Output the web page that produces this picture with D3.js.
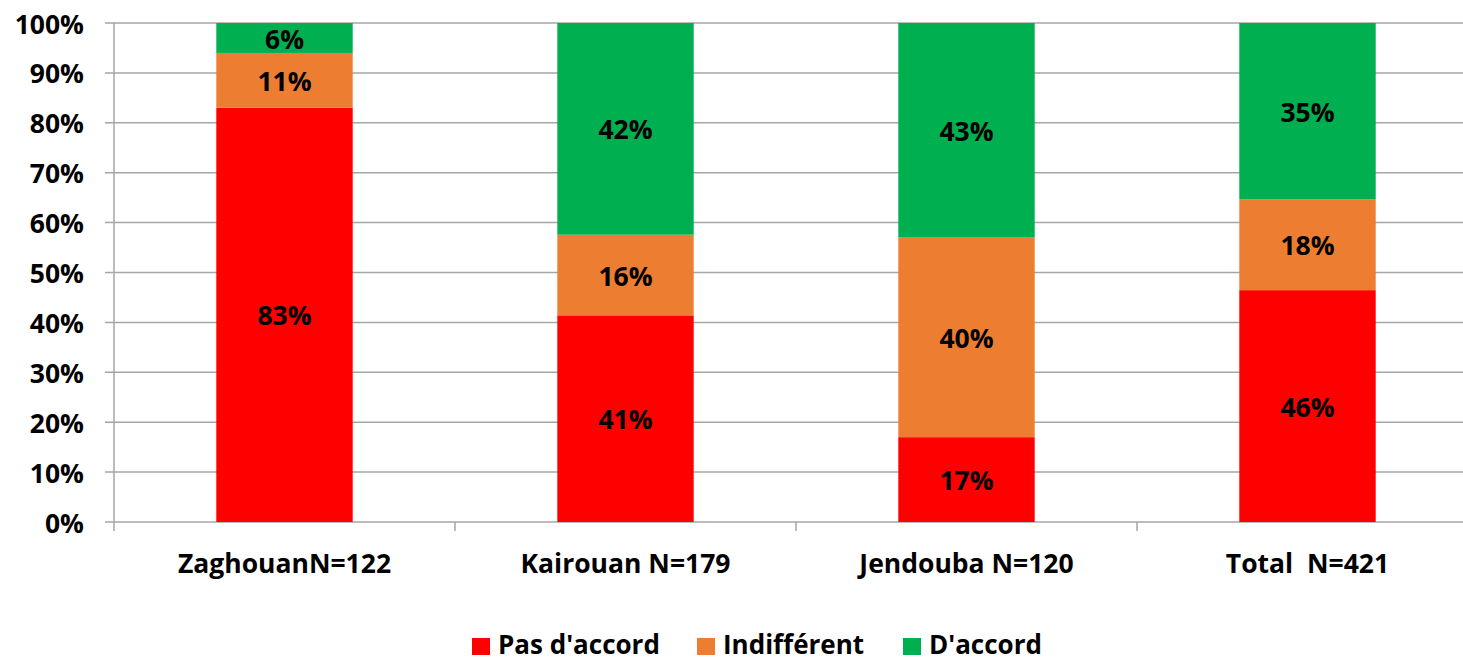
<!DOCTYPE html>
<html>
<head>
<meta charset="utf-8">
<script src="https://cdn.jsdelivr.net/npm/d3@7"></script>
<style>
  html, body { margin: 0; padding: 0; background: #fff; }
  svg { display: block; font-family: "Open Sans", Lato, sans-serif; font-weight: bold; }
</style>
</head>
<body>
<svg id="chart" width="1463" height="662"></svg>
<script>
// Survey answers by governorate (percent of respondents)
const categories = ["ZaghouanN=122", "Kairouan N=179", "Jendouba N=120", "Total  N=421"];
const seriesNames = ["Pas d'accord", "Indifférent", "D'accord"];
const pasDaccord = [83, 41, 17, 46];
const indifferent = [11, 16, 40, 18];
const daccord = [6, 42, 43, 35];
const yTickValues = [0, 0.1, 0.2, 0.3, 0.4, 0.5, 0.6, 0.7, 0.8, 0.9, 1];
const colors = ["#FF0000", "#ED7D31", "#00B050"];

const rows = categories.map((c, i) => ({
  cat: c,
  [seriesNames[0]]: pasDaccord[i],
  [seriesNames[1]]: indifferent[i],
  [seriesNames[2]]: daccord[i]
}));

const svg = d3.select("#chart");
const FS = 26.5;
const margin = { left: 114, top: 23 };
const plotRight = 114 + 341 * 4;

const x = d3.scaleBand().domain(categories).range([margin.left, plotRight]).paddingInner(0.6).paddingOuter(0.3);
const y = d3.scaleLinear().domain([0, 1]).range([522, margin.top]);
const color = d3.scaleOrdinal().domain(seriesNames).range(colors);

// 100% stacked layout
const stacked = d3.stack().keys(seriesNames).offset(d3.stackOffsetExpand)(rows);

// horizontal gridlines
svg.append("g")
  .selectAll("line")
  .data(yTickValues)
  .join("line")
  .attr("x1", margin.left - 9)
  .attr("x2", plotRight)
  .attr("y1", d => y(d))
  .attr("y2", d => y(d))
  .attr("stroke", "#A6A6A6")
  .attr("stroke-width", 1.5);

// y axis line
svg.append("line")
  .attr("x1", margin.left).attr("x2", margin.left)
  .attr("y1", y(1)).attr("y2", y(0))
  .attr("stroke", "#A6A6A6").attr("stroke-width", 1.5);

// category boundary ticks on the x axis
const step = x.step();
const boundaries = d3.range(categories.length + 1).map(i => margin.left + i * step);
svg.append("g")
  .selectAll("line")
  .data(boundaries)
  .join("line")
  .attr("x1", d => d).attr("x2", d => d)
  .attr("y1", y(0)).attr("y2", y(0) + 9)
  .attr("stroke", "#A6A6A6").attr("stroke-width", 1.5);

// y tick labels
svg.append("g")
  .selectAll("text")
  .data(yTickValues)
  .join("text")
  .attr("x", 84)
  .attr("y", d => y(d) + 1)
  .attr("dy", "0.36em")
  .attr("text-anchor", "end")
  .attr("font-size", FS)
  .text(d3.format(".0%"));

// bars
const layers = svg.append("g")
  .selectAll("g")
  .data(stacked)
  .join("g")
  .attr("fill", d => color(d.key));

layers.selectAll("rect")
  .data(d => d)
  .join("rect")
  .attr("x", d => x(d.data.cat))
  .attr("width", x.bandwidth())
  .attr("y", d => y(d[1]))
  .attr("height", d => y(d[0]) - y(d[1]));

// value labels
const valueText = svg.append("g");
stacked.forEach(layer => {
  valueText.selectAll(null)
    .data(layer)
    .join("text")
    .attr("x", d => x(d.data.cat) + x.bandwidth() / 2)
    .attr("y", d => (y(d[0]) + y(d[1])) / 2 + 1)
    .attr("dy", "0.36em")
    .attr("text-anchor", "middle")
    .attr("font-size", FS)
    .attr("fill", "#000")
    .text(d => d.data[layer.key] + "%");
});

// category labels
svg.append("g")
  .selectAll("text")
  .data(categories)
  .join("text")
  .attr("x", d => x(d) + x.bandwidth() / 2)
  .attr("y", 573)
  .attr("text-anchor", "middle")
  .attr("font-size", FS)
  .attr("xml:space", "preserve")
  .style("white-space", "pre")
  .text(d => d);

// legend
const legendX = [472, 697, 903];
const legend = svg.append("g")
  .selectAll("g")
  .data(seriesNames)
  .join("g")
  .attr("transform", (d, i) => `translate(${legendX[i]},0)`);
legend.append("rect")
  .attr("x", 0).attr("y", 638)
  .attr("width", 18).attr("height", 17)
  .attr("fill", d => color(d));
legend.append("text")
  .attr("x", 26)
  .attr("y", 654)
  .attr("font-size", 26)
  .text(d => d);
</script>
</body>
</html>
